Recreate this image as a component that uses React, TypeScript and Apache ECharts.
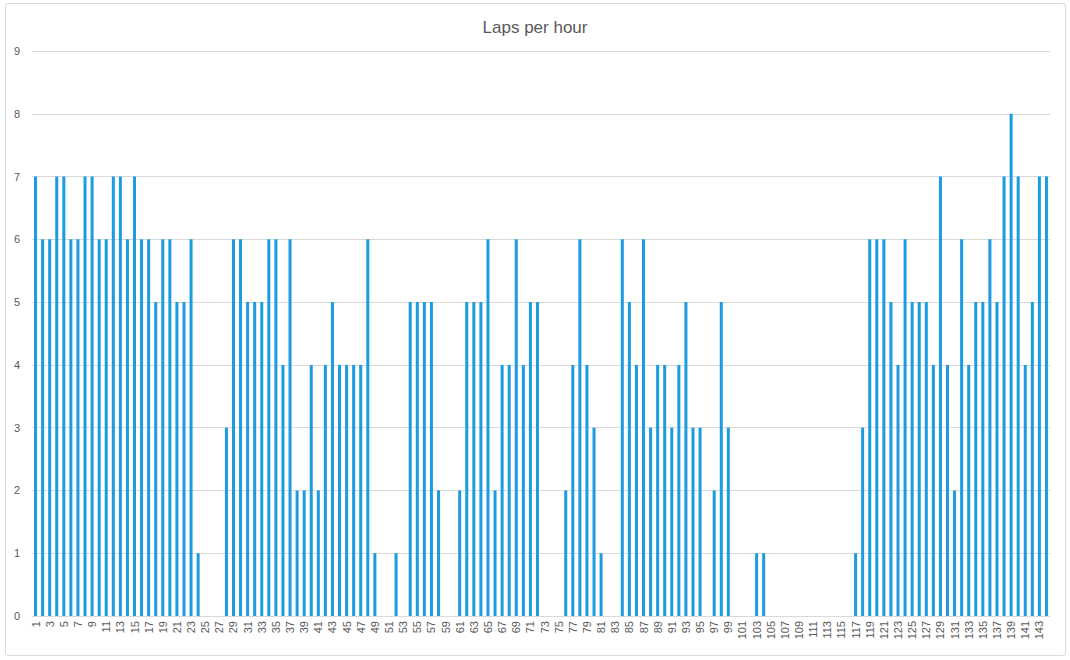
import React, { useEffect, useRef } from "react";
import * as echarts from "echarts";

const title = "Laps per hour";
const hours: string[] = Array.from({ length: 144 }, (_, i) => String(i + 1));
const laps: number[] = [
  7, 6, 6, 7, 7, 6, 6, 7, 7, 6, 6, 7, 7, 6, 7, 6, 6, 5, 6, 6, 5, 5, 6, 1,
  0, 0, 0, 3, 6, 6, 5, 5, 5, 6, 6, 4, 6, 2, 2, 4, 2, 4, 5, 4, 4, 4, 4, 6,
  1, 0, 0, 1, 0, 5, 5, 5, 5, 2, 0, 0, 2, 5, 5, 5, 6, 2, 4, 4, 6, 4, 5, 5,
  0, 0, 0, 2, 4, 6, 4, 3, 1, 0, 0, 6, 5, 4, 6, 3, 4, 4, 3, 4, 5, 3, 3, 0,
  2, 5, 3, 0, 0, 0, 1, 1, 0, 0, 0, 0, 0, 0, 0, 0, 0, 0, 0, 0, 1, 3, 6, 6,
  6, 5, 4, 6, 5, 5, 5, 4, 7, 4, 2, 6, 4, 5, 5, 6, 5, 7, 8, 7, 4, 5, 7, 7,
];
const yTicks = { min: 0, max: 9, interval: 1 };

export default function App() {
  const ref = useRef<HTMLDivElement>(null);
  useEffect(() => {
    document.body.style.margin = "0";
    if (!ref.current) return;
    const chart = echarts.init(ref.current, undefined, { renderer: "svg" });
    chart.setOption({
      animation: false,
      backgroundColor: "#ffffff",
      textStyle: { fontFamily: "Liberation Sans, Arial, sans-serif" },
      title: {
        text: title,
        left: "center",
        top: 14,
        textStyle: { fontSize: 17, fontWeight: "normal", color: "#595959" },
      },
      graphic: [
        {
          type: "rect",
          shape: { x: 5.5, y: 3.5, width: 1060, height: 652, r: 2 },
          style: { fill: "none", stroke: "#d9d9d9", lineWidth: 1 },
          silent: true,
        },
      ],
      grid: { left: 32, right: 20, top: 51, bottom: 44, containLabel: false },
      xAxis: {
        type: "category",
        data: hours,
        boundaryGap: true,
        axisLine: { lineStyle: { color: "#d9d9d9" } },
        axisTick: { show: false },
        axisLabel: {
          rotate: 90,
          interval: 1,
          fontSize: 11,
          color: "#595959",
          margin: 5,
        },
      },
      yAxis: {
        type: "value",
        min: yTicks.min,
        max: yTicks.max,
        interval: yTicks.interval,
        axisLine: { show: false },
        axisTick: { show: false },
        axisLabel: { fontSize: 11, color: "#595959", margin: 12 },
        splitLine: { lineStyle: { color: "#d9d9d9" } },
      },
      series: [
        {
          type: "bar",
          data: laps,
          barWidth: 3,
          itemStyle: { color: "#1b9be0" },
        },
      ],
    });
    return () => chart.dispose();
  }, []);
  return <div ref={ref} style={{ width: 1070, height: 660 }} />;
}
